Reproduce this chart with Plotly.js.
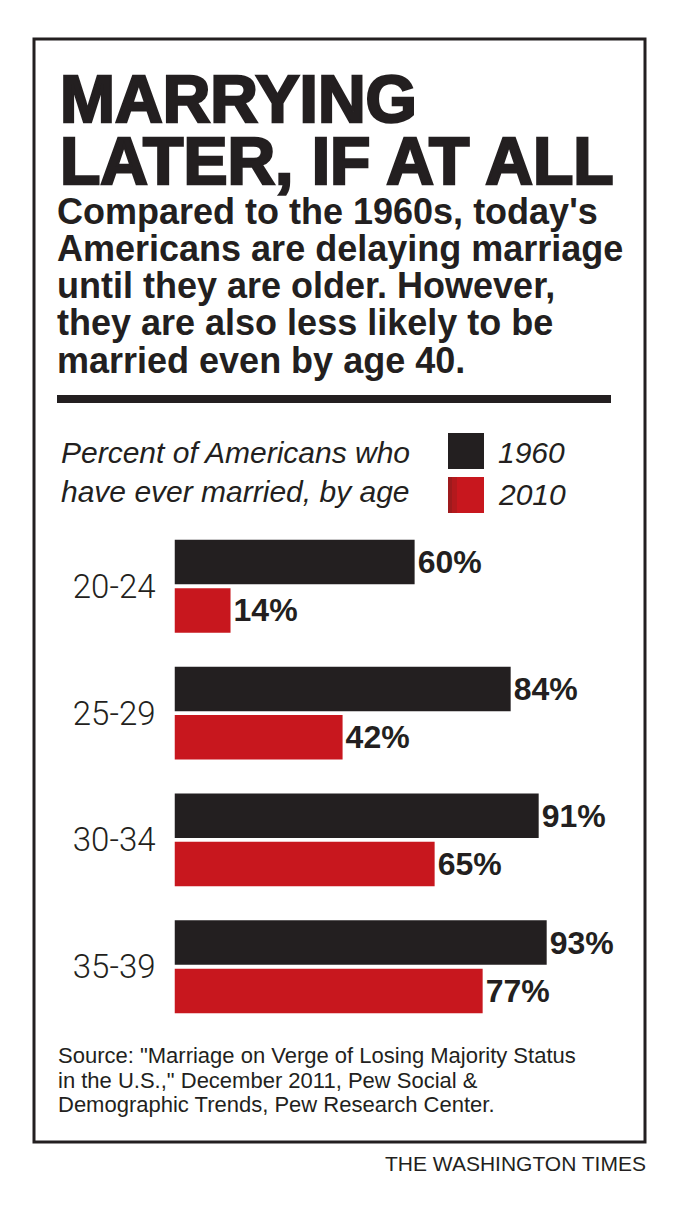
<!DOCTYPE html>
<html>
<head>
<meta charset="utf-8">
<script src="https://cdn.plot.ly/plotly-3.0.1.min.js"></script>
<style>html,body{margin:0;padding:0;background:#fff;}#chart{width:674px;height:1206px;}</style>
</head>
<body>
<div id="chart"></div>
<script>
// ---- data ----
var ageGroups = ['20-24', '25-29', '30-34', '35-39'];
var pct1960 = [60, 84, 91, 93];
var pct2010 = [14, 42, 65, 77];
var seriesNames = ['1960', '2010'];

var titleLines = ['MARRYING', 'LATER, IF AT ALL'];
var subtitleLines = [
  'Compared to the 1960s, today\'s',
  'Americans are delaying marriage',
  'until they are older. However,',
  'they are also less likely to be',
  'married even by age 40.'
];
var legendTitleLines = ['Percent of Americans who', 'have ever married, by age'];
var sourceLines = [
  'Source: "Marriage on Verge of Losing Majority Status',
  'in the U.S.," December 2011, Pew Social &',
  'Demographic Trends, Pew Research Center.'
];
var credit = 'THE WASHINGTON TIMES';

// ---- styling ----
var W = 674, H = 1206;
var INK = '#231f20', RED = '#c8171e';
function px(v) { return v / W; }
function py(v) { return 1 - v / H; }

var labelFont = { family: 'Liberation Sans, Arial, sans-serif', size: 32, color: INK, weight: 'bold' };
var traces = [
  {
    type: 'bar', orientation: 'h', name: seriesNames[0],
    y: ageGroups, x: pct1960,
    marker: { color: INK },
    texttemplate: '%{x}%', textposition: 'outside',
    textfont: labelFont,
    constraintext: 'none', cliponaxis: false, hoverinfo: 'skip'
  },
  {
    type: 'bar', orientation: 'h', name: seriesNames[1],
    y: ageGroups, x: pct2010,
    marker: { color: RED },
    texttemplate: '%{x}%', textposition: 'outside',
    textfont: labelFont,
    constraintext: 'none', cliponaxis: false, hoverinfo: 'skip'
  }
];

var annotations = [];
function addText(text, x, yc, size, opts) {
  opts = opts || {};
  annotations.push({
    xref: 'paper', yref: 'paper', x: px(x), y: py(yc),
    xanchor: opts.xanchor || 'left', yanchor: 'middle',
    showarrow: false, text: text,
    font: { family: opts.family || 'Liberation Sans, Arial, sans-serif', size: size, color: INK,
            weight: opts.weight || 'normal', style: opts.style || 'normal' }
  });
}
// title
addText('<span style="stroke:' + INK + ';stroke-width:2.5px">' + titleLines[0] + '</span>', 58, 99, 66, { weight: 'bold' });
addText('<span style="stroke:' + INK + ';stroke-width:2.5px">' + titleLines[1] + '</span>', 58, 161, 66, { weight: 'bold' });
// subtitle
var subC = [211.4, 248.6, 285.8, 323, 360.2];
subtitleLines.forEach(function (t, i) { addText(t, 55, subC[i], 36, { weight: 'bold' }); });
// legend text
addText(legendTitleLines[0], 59, 452.8, 30, { style: 'italic' });
addText(legendTitleLines[1], 59, 492, 30, { style: 'italic' });
addText(seriesNames[0], 496, 452.8, 30, { style: 'italic' });
addText(seriesNames[1], 496, 495, 30, { style: 'italic' });
// source
var srcC = [1055, 1080, 1104];
sourceLines.forEach(function (t, i) { addText(t, 56, srcC[i], 22); });
// credit
addText(credit, 648, 1163, 21, { xanchor: 'right' });

var shapes = [
  { type: 'rect', xref: 'paper', yref: 'paper', x0: px(34), x1: px(645), y0: py(39), y1: py(1142),
    line: { color: INK, width: 3 }, fillcolor: 'rgba(0,0,0,0)' },
  { type: 'rect', xref: 'paper', yref: 'paper', x0: px(57), x1: px(611), y0: py(395), y1: py(403),
    line: { width: 0 }, fillcolor: INK },
  { type: 'rect', xref: 'paper', yref: 'paper', x0: px(448), x1: px(484), y0: py(433), y1: py(469),
    line: { width: 0 }, fillcolor: INK },
  { type: 'rect', xref: 'paper', yref: 'paper', x0: px(448), x1: px(484), y0: py(477), y1: py(513),
    line: { width: 0 }, fillcolor: RED },
  { type: 'rect', xref: 'paper', yref: 'paper', x0: px(448), x1: px(452), y0: py(477), y1: py(513),
    line: { width: 0 }, fillcolor: '#9e1a1d' },
  { type: 'rect', xref: 'paper', yref: 'paper', x0: px(452), x1: px(457), y0: py(477), y1: py(513),
    line: { width: 0 }, fillcolor: '#b3191d' }
];

var layout = {
  width: W, height: H,
  margin: { l: 0, r: 0, t: 0, b: 0 },
  paper_bgcolor: '#ffffff', plot_bgcolor: '#ffffff',
  showlegend: false,
  barmode: 'group', bargap: 0.237, bargroupgap: 0.08,
  xaxis: {
    domain: [px(174.5), px(574.7)], range: [0, 100],
    visible: false, fixedrange: true
  },
  yaxis: {
    domain: [py(1030.1), py(522.9)],
    autorange: 'reversed', type: 'category',
    showgrid: false, zeroline: false, showline: false, ticks: '',
    ticklabelstandoff: 18,
    tickfont: { family: 'Roboto, Liberation Sans, sans-serif', size: 33, color: INK, weight: 300 },
    fixedrange: true
  },
  annotations: annotations,
  shapes: shapes,
  hovermode: false
};

Plotly.newPlot('chart', traces, layout, { staticPlot: true, displayModeBar: false });
</script>
</body>
</html>
